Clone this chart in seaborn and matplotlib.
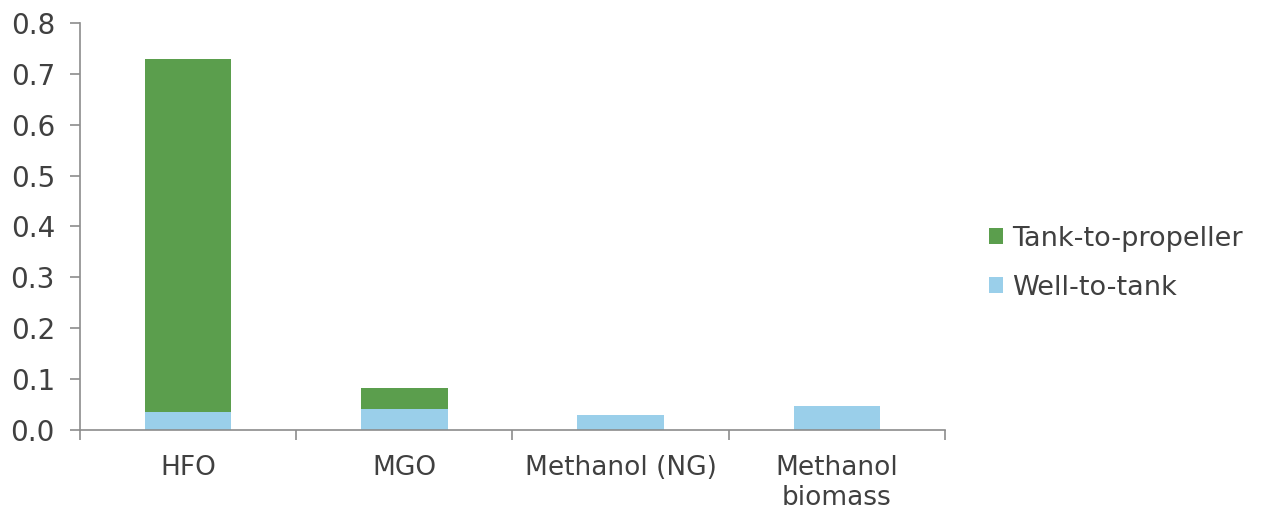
import matplotlib
matplotlib.use("Agg")
import matplotlib.pyplot as plt
import seaborn as sns
import pandas as pd
from matplotlib.patches import Patch

categories = ["HFO", "MGO", "Methanol (NG)", "Methanol\nbiomass"]
well_to_tank = [0.036, 0.042, 0.030, 0.047]
tank_to_propeller = [0.693, 0.041, 0.0, 0.0]

green = "#5B9E4D"
blue = "#9ACFEA"
axis_gray = "#8C8C8C"
text_col = "#404040"

sns.set_theme(style="white")
plt.rcParams["font.family"] = ["DejaVu Sans"]

totals = [a + b for a, b in zip(well_to_tank, tank_to_propeller)]
df = pd.DataFrame({"cat": categories, "wtt": well_to_tank, "total": totals})

fig = plt.figure(figsize=(12.61, 5.16), dpi=100)
ax = fig.add_axes([0.0634, 0.1667, 0.6860, 0.7887])

sns.barplot(data=df, x="cat", y="total", color=green, width=0.4, ax=ax,
            saturation=1, linewidth=0)
sns.barplot(data=df, x="cat", y="wtt", color=blue, width=0.4, ax=ax,
            saturation=1, linewidth=0)

ax.set_xlim(-0.5, len(categories) - 0.5)
ax.set_ylim(0, 0.8)
ax.set_yticks([i / 10 for i in range(9)])
ax.set_yticklabels([f"{i/10:.1f}" for i in range(9)])
ax.set_xlabel("")
ax.set_ylabel("")

for s in ["top", "right"]:
    ax.spines[s].set_visible(False)
for s in ["left", "bottom"]:
    ax.spines[s].set_color(axis_gray)
    ax.spines[s].set_linewidth(1.2)

ax.tick_params(axis="y", which="major", left=True, length=7, width=1.2,
               color=axis_gray, labelsize=20, labelcolor=text_col, pad=11)
ax.tick_params(axis="x", which="major", bottom=False, labelsize=19,
               labelcolor=text_col, pad=12)
ax.set_xticks([i - 0.5 for i in range(len(categories) + 1)], minor=True)
ax.tick_params(axis="x", which="minor", bottom=True, length=7, width=1.2,
               color=axis_gray)

handles = [Patch(facecolor=green, edgecolor="none", label="Tank-to-propeller"),
           Patch(facecolor=blue, edgecolor="none", label="Well-to-tank")]
fig.legend(handles=handles, loc="center left", bbox_to_anchor=(0.765, 0.49),
           frameon=False, fontsize=19.5, labelcolor=text_col,
           handlelength=0.5, handleheight=0.5, handletextpad=0.35,
           labelspacing=0.85)

fig.savefig("out.png", dpi=100)
